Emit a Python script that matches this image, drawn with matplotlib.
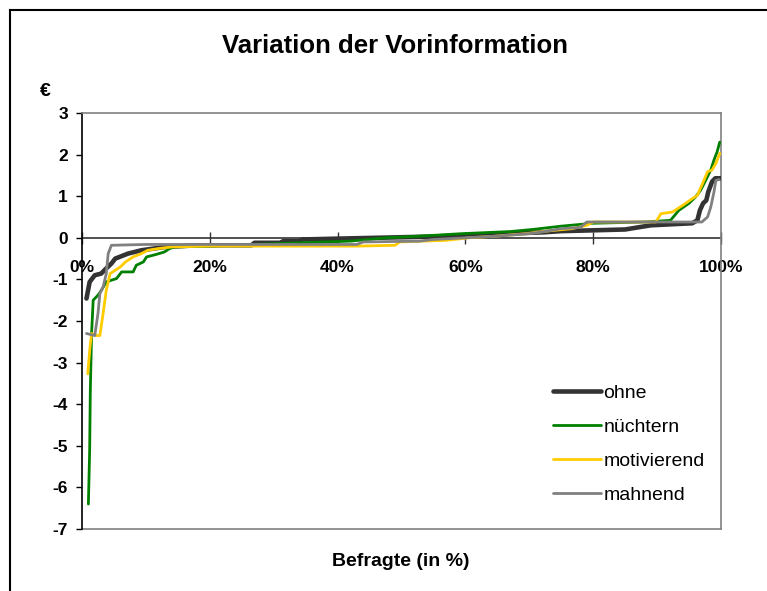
import matplotlib
matplotlib.use("Agg")
import matplotlib.pyplot as plt
from matplotlib.lines import Line2D

# ---- data ----
title = "Variation der Vorinformation"
xlabel = "Befragte (in %)"
ylabel = "€"
xticks = [0, 20, 40, 60, 80, 100]
xticklabels = ["0%", "20%", "40%", "60%", "80%", "100%"]
yticks = [-7, -6, -5, -4, -3, -2, -1, 0, 1, 2, 3]

ohne_x = [0.7, 1.2, 2.0, 3.0, 3.7, 4.6, 5.2, 7.2, 9.3, 13, 18, 26.5, 27, 31, 31.5, 34, 34.5,
          40, 46, 55, 60, 66, 72, 75, 85, 87, 89, 95.5, 96.3, 96.7, 97.2, 97.7, 98.0, 98.6, 99.1, 100]
ohne_y = [-1.46, -1.06, -0.9, -0.86, -0.75, -0.62, -0.5, -0.38, -0.3, -0.22, -0.18, -0.18, -0.12,
          -0.12, -0.08, -0.08, -0.04, -0.02, 0.0, 0.03, 0.06, 0.1, 0.13, 0.16, 0.2, 0.25, 0.3, 0.35,
          0.42, 0.66, 0.83, 0.9, 1.1, 1.35, 1.43, 1.43]

nuechtern_x = [1.0, 1.2, 1.3, 1.5, 1.75, 2.5, 3.0, 3.8, 4.6, 5.4, 6.2, 8.0, 8.5, 9.6, 10.1, 11.6,
               12.9, 13.7, 14.5, 20, 34, 42, 47.6, 54, 59.5, 67, 70.5, 75, 80, 88, 92.1, 93.4,
               95.0, 96.0, 96.8, 97.6, 98.4, 98.9, 99.4, 99.8]
nuechtern_y = [-6.4, -5.1, -3.7, -2.3, -1.5, -1.38, -1.27, -1.06, -1.02, -0.98, -0.82, -0.82, -0.66,
               -0.58, -0.46, -0.4, -0.34, -0.26, -0.22, -0.2, -0.12, -0.08, 0.0, 0.05, 0.1, 0.15,
               0.2, 0.28, 0.35, 0.38, 0.42, 0.66, 0.83, 0.98, 1.14, 1.38, 1.63, 1.87, 2.07, 2.3]

motiv_x = [0.9, 1.25, 1.5, 2.3, 2.8, 3.3, 3.8, 4.4, 5.2, 6.0, 6.8, 8.0, 9.3, 10.3, 11.9, 14, 20,
           43, 49, 49.7, 57, 60.6, 64.8, 69.5, 72.6, 76.7, 79, 80, 89.8, 90.6, 92.4, 94.0, 95.5,
           96.3, 97.1, 97.9, 98.6, 99.2, 99.8]
motiv_y = [-3.27, -2.63, -2.3, -2.35, -2.35, -1.82, -1.26, -0.86, -0.78, -0.7, -0.58, -0.46, -0.38,
           -0.3, -0.26, -0.22, -0.2, -0.2, -0.18, -0.1, -0.06, 0, 0.04, 0.1, 0.16, 0.22, 0.3, 0.38,
           0.38, 0.58, 0.62, 0.78, 0.94, 1.02, 1.3, 1.59, 1.63, 1.79, 2.03]

mahn_x = [0.7, 2.0, 2.5, 2.8, 3.3, 3.8, 4.1, 4.6, 10, 43, 44, 52.8, 55, 60, 65, 70, 72, 75, 78, 79,
          97, 97.9, 98.4, 98.9, 99.2, 99.7]
mahn_y = [-2.3, -2.35, -1.82, -1.34, -1.18, -0.86, -0.38, -0.18, -0.16, -0.16, -0.1, -0.08, -0.04,
          0, 0.04, 0.1, 0.14, 0.22, 0.25, 0.38, 0.38, 0.5, 0.74, 1.1, 1.38, 1.4]

series = [
    ("ohne", ohne_x, ohne_y, "#333333", 3.3),
    ("nüchtern", nuechtern_x, nuechtern_y, "#008000", 2.0),
    ("motivierend", motiv_x, motiv_y, "#FFCC00", 2.0),
    ("mahnend", mahn_x, mahn_y, "#808080", 2.0),
]

plt.rcParams['font.family'] = ['Liberation Sans', 'DejaVu Sans']
plt.rcParams['axes.unicode_minus'] = False

W, H = 767, 591
fig = plt.figure(figsize=(W / 100, H / 100), dpi=100)
fig.patch.set_facecolor("white")

# figure frame (left and top only visible)
fig.add_artist(Line2D([10 / W, 10 / W], [0, 1 - 10 / H], color="black", lw=1.5))
fig.add_artist(Line2D([10 / W, 1], [1 - 10 / H, 1 - 10 / H], color="black", lw=1.5))

left, right, top, bottom = 82, 721, 113, 529
ax = fig.add_axes([left / W, 1 - bottom / H, (right - left) / W, (bottom - top) / H])

handles = []
for i, (name, xs, ys, col, lw) in enumerate(series):
    ln, = ax.plot(xs, ys, color=col, lw=lw, label=name, solid_joinstyle="round",
                  solid_capstyle="round", zorder=3 + i * 0.1)
    handles.append(ln)

ax.set_xlim(0, 100)
ax.set_ylim(-7, 3)

for s in ["top", "right"]:
    ax.spines[s].set_color("#808080")
    ax.spines[s].set_linewidth(1.2)
ax.spines["left"].set_color("black")
ax.spines["left"].set_linewidth(1.2)
ax.spines["bottom"].set_position(("data", 0))
ax.spines["bottom"].set_color("#333333")
ax.spines["bottom"].set_linewidth(1.2)
ax.spines["bottom"].set_zorder(2)
# bottom border of plot area
ax.plot([0, 1], [0, 0], transform=ax.transAxes, color="#808080", lw=1.2, clip_on=False)

ax.set_xticks(xticks)
ax.set_xticklabels(xticklabels)
ax.set_yticks(yticks)
ax.set_yticklabels([str(v) for v in yticks])
ax.tick_params(axis="x", direction="inout", length=8, width=1, pad=12, labelsize=12.5,
               color="#333333")
ax.tick_params(axis="y", direction="out", length=4, width=1, pad=6, labelsize=12.5)
for lab in ax.get_xticklabels() + ax.get_yticklabels():
    lab.set_fontweight("bold")

fig.text(395 / W, 1 - 46 / H, title, ha="center", va="center", fontsize=18.5, fontweight="bold")
fig.text(45 / W, 1 - 92 / H, ylabel, ha="center", va="center", fontsize=14, fontweight="bold")
fig.text(401 / W, 1 - 562 / H, xlabel, ha="center", va="center", fontsize=14, fontweight="bold")

leg = ax.legend(handles, [s[0] for s in series],
                loc="upper left", bbox_to_anchor=(553 / W, 1 - 384 / H),
                bbox_transform=fig.transFigure, frameon=False, fontsize=14,
                handlelength=2.45, handletextpad=0.15, labelspacing=0.85,
                borderpad=0, borderaxespad=0)

fig.savefig("out.png", dpi=100, facecolor="white")
